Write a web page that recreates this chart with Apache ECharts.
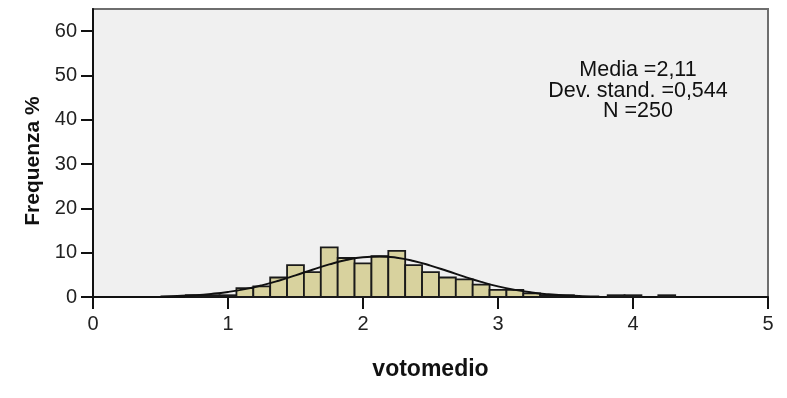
<!DOCTYPE html>
<html>
<head>
<meta charset="utf-8">
<script src="https://cdn.jsdelivr.net/npm/echarts@6/dist/echarts.min.js"></script>
<style>
  html, body { margin: 0; padding: 0; background: #ffffff; }
  #chart { width: 787px; height: 398px; }
</style>
</head>
<body>
<div id="chart"></div>
<script>
// Histogram of votomedio (bin width 0.125), percent of cases per bin
const binWidth = 0.125;
const binCenters = [0.75, 0.875, 1.0, 1.125, 1.25, 1.375, 1.5, 1.625, 1.75, 1.875,
                    2.0, 2.125, 2.25, 2.375, 2.5, 2.625, 2.75, 2.875, 3.0, 3.125,
                    3.25, 3.375, 3.5, 3.875, 4.0, 4.25];
const binPercent = [0.4, 0.4, 0.4, 2.0, 2.4, 4.4, 7.2, 5.6, 11.2, 8.8,
                    7.6, 9.2, 10.4, 7.2, 5.6, 4.4, 4.0, 2.8, 1.6, 1.6,
                    0.8, 0.4, 0.4, 0.4, 0.4, 0.4];

// Fitted normal curve (Media 2,11, Dev. stand. 0,544), percent per bin width
const curveX = [0.5, 0.625, 0.75, 0.875, 1.0, 1.125, 1.25, 1.375, 1.5, 1.625,
                1.75, 1.875, 2.0, 2.125, 2.25, 2.375, 2.5, 2.625, 2.75, 2.875,
                3.0, 3.125, 3.25, 3.375, 3.5, 3.625, 3.75];
const curveY = [0.11, 0.22, 0.40, 0.70, 1.14, 1.78, 2.63, 3.68, 4.89, 6.16,
                7.36, 8.35, 8.98, 9.16, 8.87, 8.14, 7.09, 5.86, 4.59, 3.41,
                2.40, 1.61, 1.02, 0.61, 0.35, 0.19, 0.10];

const xTicks = [0, 1, 2, 3, 4, 5];
const yTicks = [0, 10, 20, 30, 40, 50, 60];
const statsLines = ['Media =2,11', 'Dev. stand. =0,544', 'N =250'];

const font = '"Liberation Sans", Arial, sans-serif';

const chart = echarts.init(document.getElementById('chart'), null, { renderer: 'canvas' });

chart.setOption({
  animation: false,
  backgroundColor: '#ffffff',
  grid: {
    left: 93, right: 19, top: 9, bottom: 101,
    show: true,
    backgroundColor: '#f0f0f0',
    borderColor: '#6e6e6e',
    borderWidth: 2
  },
  xAxis: {
    type: 'value',
    min: 0, max: 5, interval: 1,
    name: 'votomedio',
    nameLocation: 'middle',
    nameGap: 61,
    nameTextStyle: { fontFamily: font, fontSize: 23, fontWeight: 'bold', color: '#111' },
    axisLine: { show: true, onZero: false, lineStyle: { color: '#111', width: 2 } },
    axisTick: { show: true, length: 12, inside: false, customValues: xTicks, lineStyle: { color: '#111', width: 2 } },
    axisLabel: { margin: 17, fontFamily: font, fontSize: 20, color: '#222', customValues: xTicks },
    splitLine: { show: false }
  },
  yAxis: {
    type: 'value',
    min: 0, max: 65, interval: 10,
    name: 'Frequenza %',
    nameLocation: 'middle',
    nameGap: 47,
    nameRotate: 90,
    nameTextStyle: { fontFamily: font, fontSize: 21, fontWeight: 'bold', color: '#111', padding: [0, 16, 0, 0] },
    axisLine: { show: true, onZero: false, lineStyle: { color: '#111', width: 2 } },
    axisTick: { show: true, length: 12, inside: false, customValues: yTicks, lineStyle: { color: '#111', width: 2 } },
    axisLabel: { margin: 16, fontFamily: font, fontSize: 20, color: '#222', customValues: yTicks },
    splitLine: { show: false }
  },
  series: [
    {
      type: 'custom',
      name: 'Frequenza',
      data: binCenters.map((c, i) => [c, binPercent[i]]),
      renderItem: function (params, api) {
        const c = api.value(0);
        const h = api.value(1);
        const p0 = api.coord([c - binWidth / 2, h]);
        const p1 = api.coord([c + binWidth / 2, 0]);
        return {
          type: 'rect',
          shape: { x: p0[0], y: p0[1], width: p1[0] - p0[0], height: p1[1] - p0[1] },
          style: { fill: '#d8d29e', stroke: '#1a1a1a', lineWidth: 1.8 }
        };
      },
      z: 2
    },
    {
      type: 'line',
      name: 'Normale',
      data: curveX.map((x, i) => [x, curveY[i]]),
      smooth: true,
      showSymbol: false,
      lineStyle: { color: '#111', width: 2 },
      z: 3
    }
  ],
  graphic: [
    {
      type: 'text',
      x: 638,
      y: 60,
      style: {
        text: statsLines.join('\n'),
        fontFamily: font,
        fontSize: 21.5,
        lineHeight: 20.5,
        fill: '#111',
        align: 'center',
        verticalAlign: 'top'
      }
    }
  ]
});
</script>
</body>
</html>
